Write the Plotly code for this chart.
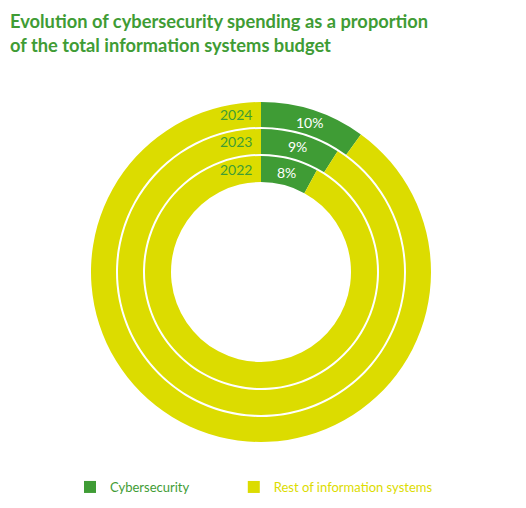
import math
import plotly.graph_objects as go

years = ["2022", "2023", "2024"]
cyber = [8, 9, 10]
rest = [92, 91, 90]
labels = ["Cybersecurity", "Rest of information systems"]

GREEN = "#3f9c35"
YELLOW = "#dcdc00"
W, H = 526, 508
OFF = 8  # page body margin shifts the figure
CX, CY = 261 - OFF, 272 - OFF
# (outer radius, inner radius) in px, inner ring first
rings = [(116, 90), (143, 118), (170, 145)]

# trailing spaces push the second legend entry to the right
pad = "&nbsp;" * 12
legend_labels = [f"<span style='color:{GREEN}'>{labels[0]}{pad}</span>",
                 f"<span style='color:{YELLOW}'>{labels[1]}</span>"]

fig = go.Figure()

for i, (yr, c, r) in enumerate(zip(years, cyber, rest)):
    ro, ri = rings[i]
    fig.add_trace(go.Pie(
        labels=legend_labels,
        values=[c, r],
        textinfo="none",
        hole=ri / ro,
        sort=False,
        direction="clockwise",
        rotation=0,
        marker=dict(colors=[GREEN, YELLOW], line=dict(width=0)),
        domain=dict(x=[(CX - ro) / W, (CX + ro) / W],
                    y=[1 - (CY + ro) / H, 1 - (CY - ro) / H]),
        showlegend=(i == 0),
        hovertemplate=f"{yr}<br>%{{value}}%<extra></extra>",
    ))
    rm = (ro + ri) / 2
    # year label just left of 12 o'clock
    fig.add_annotation(
        x=(CX - 7) / W, y=1 - (CY - rm) / H,
        xref="paper", yref="paper", xanchor="right", yanchor="middle",
        text=yr, showarrow=False,
        font=dict(color=GREEN, size=14, family="Lato"),
    )
    # percentage at the middle of the green slice
    a = math.radians(360 * c / (c + r) / 2)
    fig.add_annotation(
        x=(CX + rm * math.sin(a)) / W, y=1 - (CY - rm * math.cos(a)) / H,
        xref="paper", yref="paper", xanchor="center", yanchor="middle",
        text=f"{c}%", showarrow=False,
        font=dict(color="white", size=14, family="Lato"),
    )

fig.add_annotation(
    x=0, y=1, xref="paper", yref="paper", xanchor="left", yanchor="top",
    align="left", showarrow=False,
    text="<b>Evolution of cybersecurity spending as a proportion<br>of the total information systems budget</b>",
    font=dict(color=GREEN, size=18.3, family="Lato"),
)

fig.update_layout(
    width=W, height=H,
    margin=dict(l=0, r=0, t=0, b=0),
    paper_bgcolor="white",
    plot_bgcolor="white",
    legend=dict(
        orientation="h", x=(70 - OFF) / W, xanchor="left",
        y=1 - (487 - OFF) / H, yanchor="middle",
        font=dict(size=13, family="Lato"),
        itemclick=False,
    ),
)

fig.write_html("out.html")
